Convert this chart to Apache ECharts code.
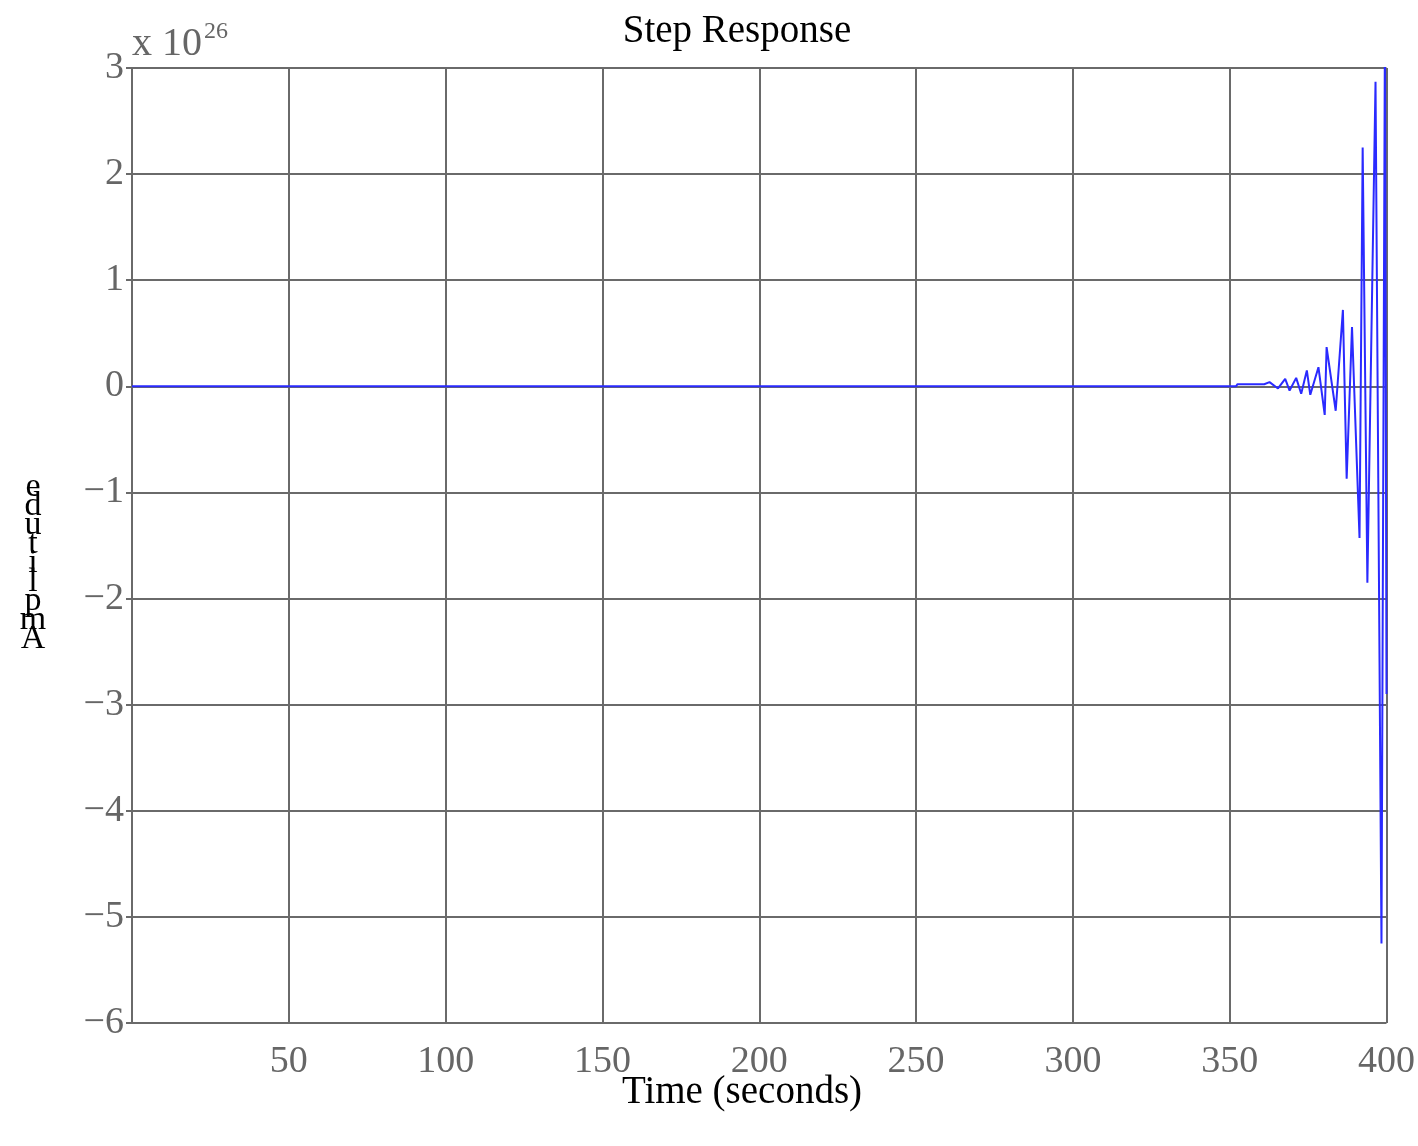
<!DOCTYPE html>
<html>
<head>
<meta charset="utf-8">
<script src="https://cdn.jsdelivr.net/npm/echarts@6/dist/echarts.min.js"></script>
<style>html,body{margin:0;padding:0;background:#fff}#c{width:1418px;height:1146px}</style>
</head>
<body>
<div id="c"></div>
<script>
// Time (s) and amplitude (x 10^26)
const timeValues = [0, 352, 352.5, 361, 362.7, 365.4, 367.7, 369.1, 371.2, 372.8, 374.6, 375.7, 378.3, 380.3, 380.9, 383.8, 386.1, 387.3, 389.0, 391.4, 392.4, 393.9, 396.5, 398.4, 399.5, 400];
const amplitudeValues = [0, 0, 0.02, 0.02, 0.04, -0.02, 0.07, -0.04, 0.08, -0.07, 0.15, -0.08, 0.18, -0.27, 0.37, -0.23, 0.72, -0.87, 0.56, -1.43, 2.25, -1.85, 2.87, -5.25, 3.4, -2.9];
const xTicks = [0, 50, 100, 150, 200, 250, 300, 350, 400];
const yTicks = [-6, -5, -4, -3, -2, -1, 0, 1, 2, 3];
const titleText = 'Step Response';
const xName = 'Time (seconds)';
const yName = 'Amplitude';
const exponentText = '26';

const seriesData = timeValues.map((t, i) => [t, amplitudeValues[i]]);
const serif = '"Liberation Serif", "DejaVu Serif", serif';
const gray = '#666666';
const gridColor = '#6a6a6a';

const chart = echarts.init(document.getElementById('c'));
const commonX = {
  type: 'value', min: xTicks[0], max: xTicks[xTicks.length - 1], interval: 50,
  axisLine: { lineStyle: { color: gridColor, width: 2 } },
  axisTick: { inside: true, length: 6, lineStyle: { color: gridColor, width: 2 } },
  splitLine: { show: false }
};
const commonY = {
  type: 'value', min: yTicks[0], max: yTicks[yTicks.length - 1], interval: 1,
  axisLine: { lineStyle: { color: gridColor, width: 2 } },
  axisTick: { inside: true, length: 6, lineStyle: { color: gridColor, width: 2 } },
  splitLine: { show: false }
};
chart.setOption({
  animation: false,
  backgroundColor: '#fff',
  grid: { left: 132, right: 31, top: 68, bottom: 123 },
  xAxis: [
    Object.assign({}, commonX, {
      position: 'bottom',
      splitLine: { show: true, lineStyle: { color: gridColor, width: 2 } },
      axisLabel: {
        color: gray, fontFamily: serif, fontSize: 38, margin: 20,
        formatter: v => (v === 0 ? '' : String(v))
      }
    }),
    Object.assign({}, commonX, { position: 'top', axisLabel: { show: false } })
  ],
  yAxis: [
    Object.assign({}, commonY, {
      position: 'left',
      splitLine: { show: true, lineStyle: { color: gridColor, width: 2 } },
      axisLabel: {
        color: gray, fontFamily: serif, fontSize: 38, margin: 8,
        formatter: v => String(v).replace('-', '\u2212')
      }
    }),
    Object.assign({}, commonY, { position: 'right', axisLabel: { show: false } })
  ],
  series: [{
    type: 'line',
    xAxisIndex: 0, yAxisIndex: 0,
    data: seriesData,
    showSymbol: false,
    clip: true,
    lineStyle: { color: '#2a2aff', width: 2 },
    z: 5
  }],
  graphic: [
    {
      type: 'text', x: 737, y: 32,
      style: { text: titleText, font: '39px ' + serif, fill: '#000', align: 'center', verticalAlign: 'middle' }
    },
    {
      type: 'text', x: 742, y: 1093,
      style: { text: xName, font: '39px ' + serif, fill: '#000', align: 'center', verticalAlign: 'middle' }
    },
    {
      type: 'text', x: 33, y: 478,
      style: {
        text: yName.split('').reverse().join('\n'),
        font: '34px ' + serif, fill: '#000', align: 'center', lineHeight: 19
      }
    },
    {
      type: 'text', x: 132, y: 20,
      style: {
        text: '{a|x 10}{b|' + exponentText + '}',
        rich: {
          a: { font: '40px ' + serif, fill: gray, verticalAlign: 'bottom', color: gray },
          b: { font: '24px ' + serif, fill: gray, color: gray, padding: [0, 0, 20, 2], verticalAlign: 'bottom' }
        }
      }
    }
  ]
});
</script>
</body>
</html>
